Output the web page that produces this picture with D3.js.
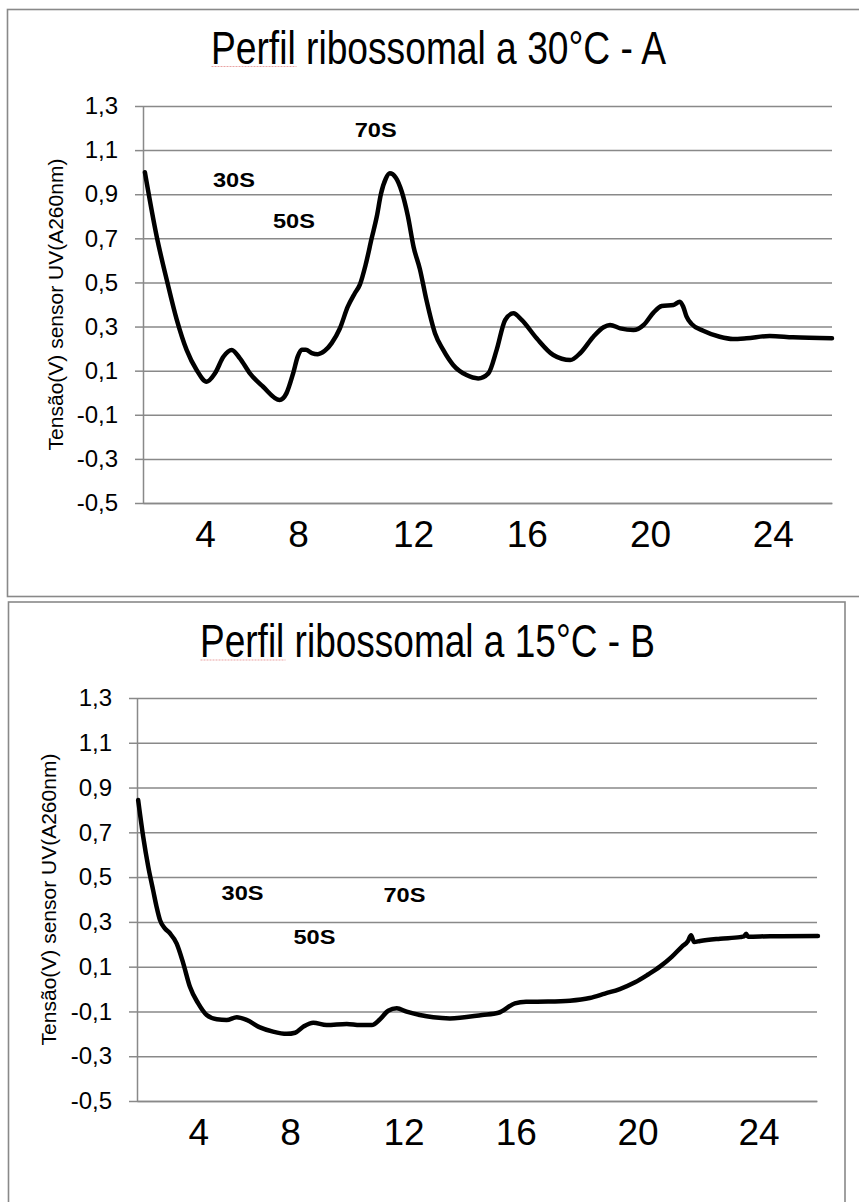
<!DOCTYPE html>
<html>
<head>
<meta charset="utf-8">
<script src="https://cdn.jsdelivr.net/npm/d3@7"></script>
<style>
  html, body { margin: 0; padding: 0; background: #fff; }
  svg { display: block; }
  text { font-family: 'Liberation Sans', Arial, sans-serif; fill: #000; }
</style>
</head>
<body>
<svg id="chart" width="859" height="1202"></svg>
<script>
'use strict';

let xTicks = [4, 8, 12, 16, 20, 24];
let xEnds = [1.34, 25.9];
let yTicks = [-0.5, -0.3, -0.1, 0.1, 0.3, 0.5, 0.7, 0.9, 1.1, 1.3];
let yTitle = 'Tensão(V) sensor UV(A260nm)';

// Perfil a 30 °C (A)
let title30 = 'Perfil ribossomal a 30°C - A';
let fraction30 = [1.42, 1.93, 2.36, 2.79, 3.21, 3.64, 4.07, 4.43, 4.79, 5.15, 5.50, 5.93,
  6.50, 7.21, 7.50, 7.79, 7.99, 8.13, 8.27, 8.48, 8.69, 8.93, 9.17, 9.45, 9.73, 9.97,
  10.15, 10.35, 10.56, 10.74, 10.88, 11.05, 11.19, 11.40, 11.61, 11.82, 12.02, 12.24,
  12.47, 12.77, 13.06, 13.41, 13.88, 14.29, 14.65, 14.94, 15.24, 15.53, 15.82, 16.32,
  16.86, 17.41, 17.73, 18.16, 18.49, 18.70, 19.03, 19.46, 19.79, 20.11, 20.38, 20.76,
  20.97, 21.08, 21.19, 21.35, 21.73, 22.27, 22.70, 23.14, 23.90, 24.65, 25.90];
let voltage30 = [1.00, 0.707, 0.511, 0.330, 0.194, 0.103, 0.050, 0.088, 0.163, 0.194, 0.156, 0.088,
  0.027, -0.033, -0.003, 0.088, 0.165, 0.195, 0.195, 0.180, 0.175, 0.190, 0.225, 0.290, 0.390, 0.450,
  0.490, 0.580, 0.700, 0.800, 0.900, 0.970, 0.995, 0.975, 0.910, 0.800, 0.660, 0.560,
  0.420, 0.270, 0.194, 0.126, 0.080, 0.065, 0.088, 0.194, 0.330, 0.360, 0.330, 0.247,
  0.171, 0.148, 0.179, 0.254, 0.297, 0.307, 0.292, 0.284, 0.307, 0.363, 0.393, 0.398,
  0.413, 0.390, 0.345, 0.312, 0.281, 0.254, 0.244, 0.247, 0.257, 0.251, 0.247];
let peakNames30 = ['30S', '50S', '70S'];
let peakX30 = [4.34, 6.92, 9.97];
let peakY30 = [0.933, 0.745, 1.161];

// Perfil a 15 °C (B)
let title15 = 'Perfil ribossomal a 15°C - B';
let fraction15 = [1.39, 1.61, 1.83, 2.04, 2.19, 2.34, 2.55, 2.77, 3.06, 3.35, 3.64, 4.00,
  4.37, 4.81, 5.24, 5.68, 6.11, 6.69, 7.26, 7.86, 8.18, 8.47, 8.82, 9.29, 10.00, 10.46,
  10.88, 11.17, 11.46, 11.76, 12.11, 12.58, 13.06, 13.65, 14.80, 15.38, 15.97, 16.34,
  17.06, 17.78, 18.43, 18.93, 19.42, 19.92, 20.35, 20.74, 21.14, 21.47, 21.67, 21.77,
  21.87, 22.07, 22.73, 23.39, 23.52, 23.59, 23.65, 24.38, 25.93];
let voltage15 = [0.844, 0.680, 0.546, 0.442, 0.368, 0.308, 0.271, 0.249, 0.204, 0.115, 0.010, -0.064,
  -0.116, -0.135, -0.138, -0.126, -0.138, -0.171, -0.190, -0.200, -0.195, -0.168, -0.150, -0.161, -0.156, -0.161,
  -0.161, -0.135, -0.097, -0.086, -0.101, -0.116, -0.126, -0.131, -0.116, -0.106, -0.064, -0.057,
  -0.056, -0.052, -0.040, -0.020, 0.000, 0.030, 0.065, 0.100, 0.145, 0.190, 0.215, 0.240,
  0.210, 0.215, 0.225, 0.232, 0.235, 0.247, 0.234, 0.236, 0.237];
let peakNames15 = ['30S', '50S', '70S'];
let peakX15 = [5.02, 8.12, 11.29];
let peakY15 = [0.398, 0.201, 0.390];

// where the hand-typed x labels sit along the plot width
let xTickFrac = [0.09, 0.225, 0.392, 0.557, 0.736, 0.914];

let locale = d3.formatLocale({decimal: ',', thousands: '.', grouping: [3], currency: ['', ''], minus: '-'});
let fmt = locale.format('.1f');

let svg = d3.select('#chart');
let gray = '#898989';

let drawPanel = (box, title, xs, ys, peakNames, peakX, peakY) => {
  let g = svg.append('g').classed('panel', true);
  g.append('rect')
    .attr('x', box.panel.x)
    .attr('y', box.panel.y)
    .attr('width', box.panel.w)
    .attr('height', box.panel.h)
    .style('fill', 'none')
    .style('stroke', gray)
    .style('stroke-width', 1.6);

  let plot = box.plot;
  let x = d3.scaleLinear()
    .domain([xEnds[0], ...xTicks, xEnds[1]])
    .range([0, ...xTickFrac, 1].map(f => plot.x + f * plot.w));
  let y = d3.scaleLinear()
    .domain([-0.5, 1.3])
    .range([plot.y + plot.h, plot.y]);

  // gridlines
  g.append('g')
    .attr('transform', `translate(${plot.x},0)`)
    .call(d3.axisLeft(y).tickValues(yTicks).tickSize(-plot.w).tickFormat(''))
    .call(a => a.select('.domain').remove())
    .call(a => a.selectAll('line').style('stroke', gray).style('stroke-width', 1.5));

  // y axis with tick marks and labels
  g.append('g')
    .attr('transform', `translate(${plot.x},0)`)
    .call(d3.axisLeft(y).tickValues(yTicks).tickSize(8).tickSizeOuter(0).tickPadding(17).tickFormat(fmt))
    .call(a => a.select('.domain').style('stroke', gray).style('stroke-width', 1.5))
    .call(a => a.selectAll('line').style('stroke', gray).style('stroke-width', 1.5))
    .call(a => a.selectAll('text')
      .attr('font-size', 24)
      .attr('font-family', "'Liberation Sans', Arial, sans-serif")
      .style('fill', '#000'));

  // x axis labels
  g.append('g')
    .attr('transform', `translate(0,${plot.y + plot.h})`)
    .call(d3.axisBottom(x).tickValues(xTicks).tickSize(0).tickPadding(18).tickFormat(d3.format('d')))
    .call(a => a.select('.domain').style('stroke', gray).style('stroke-width', 1.5))
    .call(a => a.selectAll('text')
      .attr('font-size', 37)
      .attr('font-family', "'Liberation Sans', Arial, sans-serif")
      .style('fill', '#000'));

  // y title
  g.append('text')
    .attr('transform', `translate(${box.yTitleX},${plot.y + plot.h / 2}) rotate(-90)`)
    .style('text-anchor', 'middle')
    .style('dominant-baseline', 'central')
    .style('font-size', '21px')
    .text(yTitle);

  // chart title
  g.append('text')
    .attr('x', box.title.cx)
    .attr('y', box.title.y)
    .attr('textLength', 455)
    .attr('lengthAdjust', 'spacingAndGlyphs')
    .style('text-anchor', 'middle')
    .style('font-size', '46px')
    .text(title);
  g.append('line')
    .attr('x1', box.title.cx - 227)
    .attr('x2', box.title.cx - 142)
    .attr('y1', box.title.y + 3)
    .attr('y2', box.title.y + 3)
    .style('stroke', '#e9a3a3')
    .style('stroke-width', 1)
    .style('stroke-dasharray', '2,1');

  // curve
  let points = xs.map((v, i) => [v, ys[i]]);
  g.append('path')
    .datum(points)
    .attr('d', d3.line()
      .x(d => x(d[0]))
      .y(d => y(d[1]))
      .curve(d3.curveMonotoneX))
    .style('fill', 'none')
    .style('stroke', '#000')
    .style('stroke-width', 4.5)
    .style('stroke-linejoin', 'round')
    .style('stroke-linecap', 'round');

  // peak labels
  g.selectAll('text.peak')
    .data(peakNames)
    .enter()
    .append('text')
    .classed('peak', true)
    .attr('x', (d, i) => x(peakX[i]))
    .attr('y', (d, i) => y(peakY[i]))
    .attr('textLength', 42)
    .attr('lengthAdjust', 'spacingAndGlyphs')
    .style('font-size', '20px')
    .style('font-weight', 'bold')
    .text(d => d);
};

let box30 = {
  panel: {x: 7.5, y: 9.5, w: 870, h: 587},
  plot: {x: 143, y: 106, w: 689, h: 397},
  title: {cx: 438.5, y: 63.5},
  yTitleX: 55,
};
let box15 = {
  panel: {x: 8.5, y: 602, w: 836.5, h: 620},
  plot: {x: 137, y: 698, w: 680, h: 403},
  title: {cx: 427.5, y: 657},
  yTitleX: 48.5,
};

drawPanel(box30, title30, fraction30, voltage30, peakNames30, peakX30, peakY30);
drawPanel(box15, title15, fraction15, voltage15, peakNames15, peakX15, peakY15);
</script>
</body>
</html>
